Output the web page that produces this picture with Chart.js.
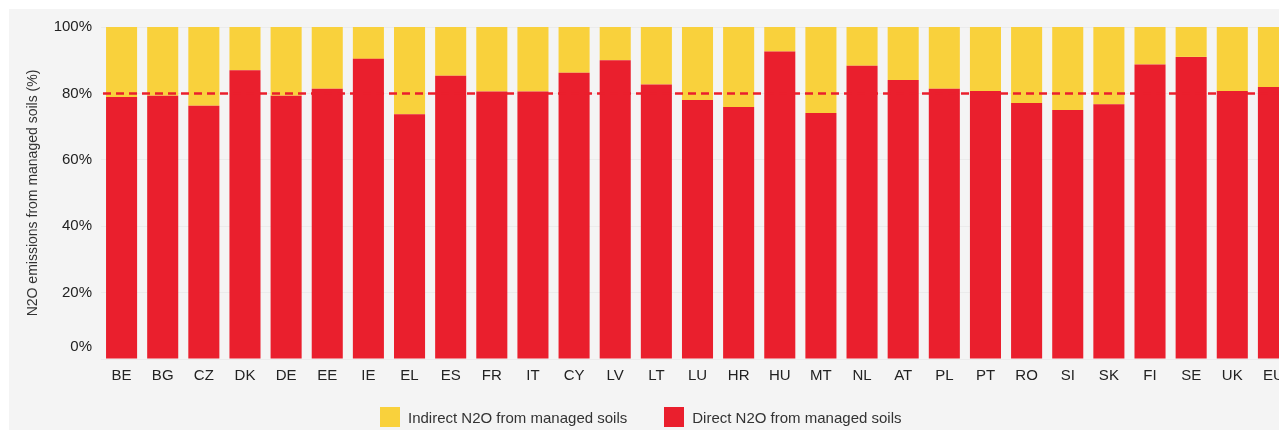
<!DOCTYPE html>
<html>
<head>
<meta charset="utf-8">
<script src="https://cdn.jsdelivr.net/npm/chart.js@4/dist/chart.umd.min.js"></script>
<style>
  html, body { margin: 0; padding: 0; background: #ffffff; overflow: hidden; width: 1279px; height: 430px; }
  #panel { position: absolute; left: 9px; top: 9px; width: 1300px; height: 430px; background: #f4f4f4; }
  #wrap { position: absolute; left: 0; top: 0; width: 1300px; height: 430px; }
  #legend { position: absolute; left: 380px; top: 407px; display: flex; align-items: center;
            font-family: "Liberation Sans", Arial, sans-serif; font-size: 15px; color: #333; }
  .li { display: flex; align-items: center; margin-right: 37px; }
  .sw { width: 20px; height: 20px; margin-right: 8px; }
</style>
</head>
<body>
<div id="panel"></div>
<div id="wrap"><canvas id="c" width="1300" height="430"></canvas></div>
<div id="legend"></div>
<script>
const categories = ["BE","BG","CZ","DK","DE","EE","IE","EL","ES","FR","IT","CY","LV","LT","LU","HR","HU","MT","NL","AT","PL","PT","RO","SI","SK","FI","SE","UK","EU"];
const directN2O = [78.9,79.3,76.3,87.0,79.3,81.4,90.4,73.7,85.3,80.6,80.6,86.2,90.0,82.7,78.0,75.9,92.6,74.1,88.3,84.0,81.4,80.7,77.1,75.0,76.7,88.7,91.0,80.7,81.9];
const indirectN2O = [21.1,20.7,23.7,13.0,20.7,18.6,9.6,26.3,14.7,19.4,19.4,13.8,10.0,17.3,22.0,24.1,7.4,25.9,11.7,16.0,18.6,19.3,22.9,25.0,23.3,11.3,9.0,19.3,18.1];
const yTicks = [0,20,40,60,80,100];
const referenceLine = 80;
const seriesNames = ["Direct N2O from managed soils","Indirect N2O from managed soils"];
const axisTitle = "N2O emissions from managed soils (%)";

const RED = "#ea1f2d";
const YELLOW = "#f9d13c";
const FONT = "'Liberation Sans', Arial, sans-serif";

const refLinePlugin = {
  id: "refLine",
  afterDatasetsDraw(chart) {
    const {ctx, chartArea, scales} = chart;
    const y = scales.y.getPixelForValue(referenceLine);
    ctx.save();
    ctx.strokeStyle = RED;
    ctx.lineWidth = 2.5;
    ctx.setLineDash([8, 5]);
    ctx.beginPath();
    ctx.moveTo(chartArea.left + 2, y);
    ctx.lineTo(chartArea.right, y);
    ctx.stroke();
    ctx.restore();
  }
};

const htmlLegend = {
  id: "htmlLegend",
  afterUpdate(chart) {
    const box = document.getElementById("legend");
    box.innerHTML = "";
    const ds = chart.data.datasets.slice().reverse();
    ds.forEach(d => {
      const li = document.createElement("div");
      li.className = "li";
      const sw = document.createElement("span");
      sw.className = "sw";
      sw.style.background = d.backgroundColor;
      const t = document.createElement("span");
      t.textContent = d.label;
      li.appendChild(sw); li.appendChild(t);
      box.appendChild(li);
    });
  }
};

new Chart(document.getElementById("c"), {
  type: "bar",
  data: {
    labels: categories,
    datasets: [
      { label: seriesNames[0], data: directN2O, backgroundColor: RED, borderWidth: 0 },
      { label: seriesNames[1], data: indirectN2O, backgroundColor: YELLOW, borderWidth: 0 }
    ]
  },
  options: {
    responsive: false,
    animation: false,
    devicePixelRatio: 1,
    layout: { padding: { left: 0, top: 27, right: 6, bottom: 41 } },
    datasets: { bar: { categoryPercentage: 1.0, barPercentage: 0.755 } },
    plugins: { legend: { display: false }, tooltip: { enabled: false } },
    scales: {
      x: {
        stacked: true,
        grid: { display: false, drawTicks: false },
        border: { display: false },
        ticks: { color: "#222", padding: 8, font: { family: FONT, size: 15 }, maxRotation: 0, autoSkip: false },
        afterFit(s) { s.height = 30; }
      },
      y: {
        stacked: true,
        min: 0, max: 100,
        afterBuildTicks(s) { s.ticks = yTicks.map(v => ({ value: v })); },
        grid: { color: "#ebebeb", drawTicks: false },
        border: { display: false },
        ticks: {
          color: "#222", padding: 9,
          font: (ctx) => ({ family: FONT, size: 15, lineHeight: (ctx.tick && ctx.tick.value === 0) ? 1.6 : 1.2 }),
          callback: (v) => v === 0 ? ["0%", " "] : v + "%"
        },
        title: {
          display: true, text: axisTitle, color: "#333",
          font: { family: FONT, size: 14 },
          padding: { top: 25, bottom: 0 }
        },
        afterFit(s) { s.width = 101; }
      }
    }
  },
  plugins: [refLinePlugin, htmlLegend]
});
</script>
</body>
</html>
